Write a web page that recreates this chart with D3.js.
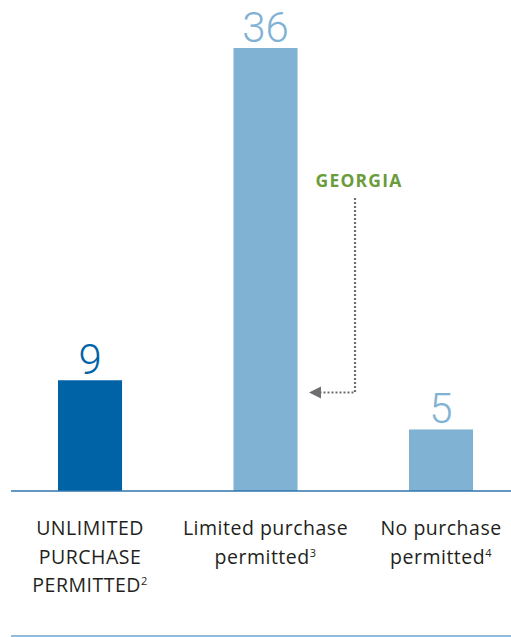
<!DOCTYPE html>
<html><head><meta charset="utf-8">
<script src="https://cdn.jsdelivr.net/npm/d3@7"></script>
<style>body{margin:0;background:#fff}svg{display:block}</style>
</head><body>
<svg id="c" width="511" height="637"></svg>
<script>
const categories = ["unlimited", "limited", "none"];
const values = [9, 36, 5];
const labelLines = [
  [["UNLIMITED"], ["PURCHASE"], ["PERMITTED", "2"]],
  [["Limited purchase"], ["permitted", "3"]],
  [["No purchase"], ["permitted", "4"]]
];
const barColors = ["#0063a6", "#80b2d3", "#80b2d3"];
const annotation = "GEORGIA";

const svg = d3.select("#c");
const font = "'Open Sans', sans-serif";
const baseY = 491;
const x = d3.scaleBand().domain(categories).range([5.35, 525.7]).paddingInner(0.635).paddingOuter(0.3);
const y = d3.scaleLinear().domain([0, 36]).range([baseY, 48]);

svg.selectAll("rect.bar").data(values).join("rect")
  .attr("x", (d, i) => x(categories[i]))
  .attr("width", x.bandwidth())
  .attr("y", d => y(d))
  .attr("height", d => baseY - y(d))
  .attr("fill", (d, i) => barColors[i]);

svg.selectAll("text.val").data(values).join("text")
  .attr("x", (d, i) => x(categories[i]) + x.bandwidth() / 2)
  .attr("y", d => y(d) - 6.5)
  .attr("text-anchor", "middle")
  .attr("font-family", "Roboto, sans-serif")
  .attr("font-size", 42)
  .attr("font-weight", 300)
  .attr("fill", (d, i) => barColors[i])
  .text(d => d);

// baseline
svg.append("line").attr("x1", 11).attr("x2", 511).attr("y1", baseY).attr("y2", baseY)
  .attr("stroke", "#2f74ad").attr("stroke-width", 1.5);
// bottom rule
svg.append("line").attr("x1", 11).attr("x2", 511).attr("y1", 636).attr("y2", 636)
  .attr("stroke", "#6fa5cf").attr("stroke-width", 1.5);

// category labels
labelLines.forEach((lines, i) => {
  const cx = x(categories[i]) + x.bandwidth() / 2;
  const t = svg.append("text").attr("text-anchor", "middle")
    .attr("font-family", font).attr("font-size", 19.5).attr("letter-spacing", 0.5)
    .attr("fill", "#231f20");
  lines.forEach((ln, j) => {
    t.append("tspan").attr("x", cx).attr("y", 535 + j * 28.5).text(ln[0]);
    if (ln[1]) t.append("tspan").attr("font-size", 11).attr("dy", -7).text(ln[1]);
  });
});

// annotation
const ax = 355;
svg.append("text").attr("x", 359).attr("y", 187).attr("text-anchor", "middle")
  .attr("font-family", font).attr("font-size", 17.5).attr("font-weight", 700)
  .attr("letter-spacing", 1.2)
  .attr("fill", "#6a9c3c").text(annotation);
const arrowY = 392.5;
svg.append("path")
  .attr("d", `M${ax},198 V${arrowY} H321`)
  .attr("fill", "none").attr("stroke", "#6d6e71").attr("stroke-width", 2.2)
  .attr("stroke-dasharray", "2,2");
svg.append("path")
  .attr("d", `M309,${arrowY} L321,${arrowY - 6} L321,${arrowY + 6} Z`)
  .attr("fill", "#6d6e71");
</script>
</body></html>
